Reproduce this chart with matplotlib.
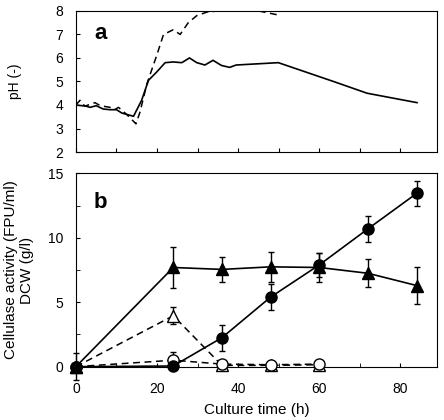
import matplotlib.pyplot as plt
from matplotlib.ticker import MultipleLocator

plt.rcParams['font.family'] = ['Liberation Sans', 'DejaVu Sans']

# panel a: pH
t_ph_solid = [0, 2.5, 3.5, 5, 6.7, 8.4, 10, 11.3, 14.2, 16.2, 17.9, 19.9, 22, 24, 26.1, 28,
              29.8, 31.8, 33.8, 35.9, 37.9, 39.5, 49.9, 63.5, 71.8, 84.1]
ph_solid = [4.0, 3.95, 3.9, 3.97, 3.83, 3.8, 3.8, 3.66, 3.52, 4.2, 5.05, 5.4, 5.8, 5.83, 5.8, 6.0,
            5.8, 5.7, 5.9, 5.68, 5.6, 5.7, 5.8, 5.0, 4.5, 4.1]
t_ph_dash = [0, 1, 2.2, 4.7, 6, 8.4, 9.5, 10.5, 12.5, 14.8, 15.8, 17.5, 19.9, 21.6, 24, 25.7,
             27.7, 29.8, 32.3, 35, 45, 49.8]
ph_dash = [4.0, 4.2, 3.95, 4.1, 3.97, 3.9, 3.8, 3.9, 3.6, 3.2, 3.7, 4.9, 6.1, 7.0, 7.2, 7.0,
           7.5, 7.8, 7.95, 8.0, 8.0, 7.83]

# panel b: cellulase activity and DCW
t_b = [0, 24, 36, 48, 60, 72, 84]
act_fill = [0, 0.05, 2.25, 5.4, 7.9, 10.7, 13.45]
act_fill_err = [0, 0, 1.0, 1.0, 0.95, 1.0, 1.0]
dcw_fill = [0, 7.7, 7.55, 7.75, 7.7, 7.25, 6.3]
dcw_fill_err = [0, 1.6, 1.0, 1.15, 1.1, 1.1, 1.45]

t_open = [0, 24, 36, 48, 60]
act_open = [0, 0.5, 0.2, 0.15, 0.2]
act_open_err = [0, 0.6, 0, 0, 0]
dcw_open = [0, 3.95, 0.1, 0.1, 0.15]
dcw_open_err = [1.05, 0.65, 0, 0, 0]

fig = plt.figure(figsize=(4.44, 4.2), dpi=100)
ax1 = fig.add_axes([0.171, 0.638, 0.813, 0.336])
ax2 = fig.add_axes([0.171, 0.127, 0.813, 0.460])

dash = (0, (4.5, 3))

ax1.plot(t_ph_solid, ph_solid, color='black', lw=1.2)
ax1.plot(t_ph_dash, ph_dash, color='black', lw=1.1, linestyle=dash)
ax1.set_xlim(0, 89)
ax1.set_ylim(2, 8)
ax1.xaxis.set_major_locator(MultipleLocator(10))
ax1.yaxis.set_major_locator(MultipleLocator(1))
ax1.tick_params(direction='in', labelsize=10, length=3)
ax1.tick_params(axis='y', pad=9)
ax1.tick_params(axis='x', labelbottom=False)
ax1.set_ylabel('pH (-)', fontsize=10)
ax1.yaxis.set_label_coords(-0.15, 0.5)
ax1.text(0.05, 0.80, 'a', transform=ax1.transAxes, fontsize=16, fontweight='bold')

kw = dict(color='black', capsize=2.5, elinewidth=1.0, capthick=1.0, clip_on=False, zorder=3)
ax2.errorbar(t_open, dcw_open, yerr=dcw_open_err, marker='^', ms=8, mfc='white', mec='black',
             lw=1.1, linestyle=dash, **kw)
ax2.errorbar(t_open, act_open, yerr=act_open_err, marker='o', ms=8, mfc='white', mec='black',
             lw=1.1, linestyle=dash, **kw)
ax2.errorbar(t_b, dcw_fill, yerr=dcw_fill_err, marker='^', ms=8, mfc='black', mec='black',
             lw=1.2, **kw)
ax2.errorbar(t_b, act_fill, yerr=act_fill_err, marker='o', ms=8, mfc='black', mec='black',
             lw=1.2, **kw)
ax2.set_xlim(0, 89)
ax2.set_ylim(0, 15)
ax2.xaxis.set_major_locator(MultipleLocator(20))
ax2.xaxis.set_minor_locator(MultipleLocator(10))
ax2.yaxis.set_major_locator(MultipleLocator(5))
ax2.yaxis.set_minor_locator(MultipleLocator(2.5))
ax2.tick_params(which='both', direction='in', labelsize=10, length=3)
ax2.tick_params(axis='y', pad=9)
ax2.tick_params(axis='x', pad=11)
ax2.set_xlabel('Culture time (h)', fontsize=11, labelpad=5)
ax2.set_ylabel('Cellulase activity (FPU/ml)\nDCW (g/l)', fontsize=11)
ax2.yaxis.set_label_coords(-0.115, 0.5)
ax2.text(0.05, 0.82, 'b', transform=ax2.transAxes, fontsize=16, fontweight='bold')

fig.savefig('out.png', dpi=100)
